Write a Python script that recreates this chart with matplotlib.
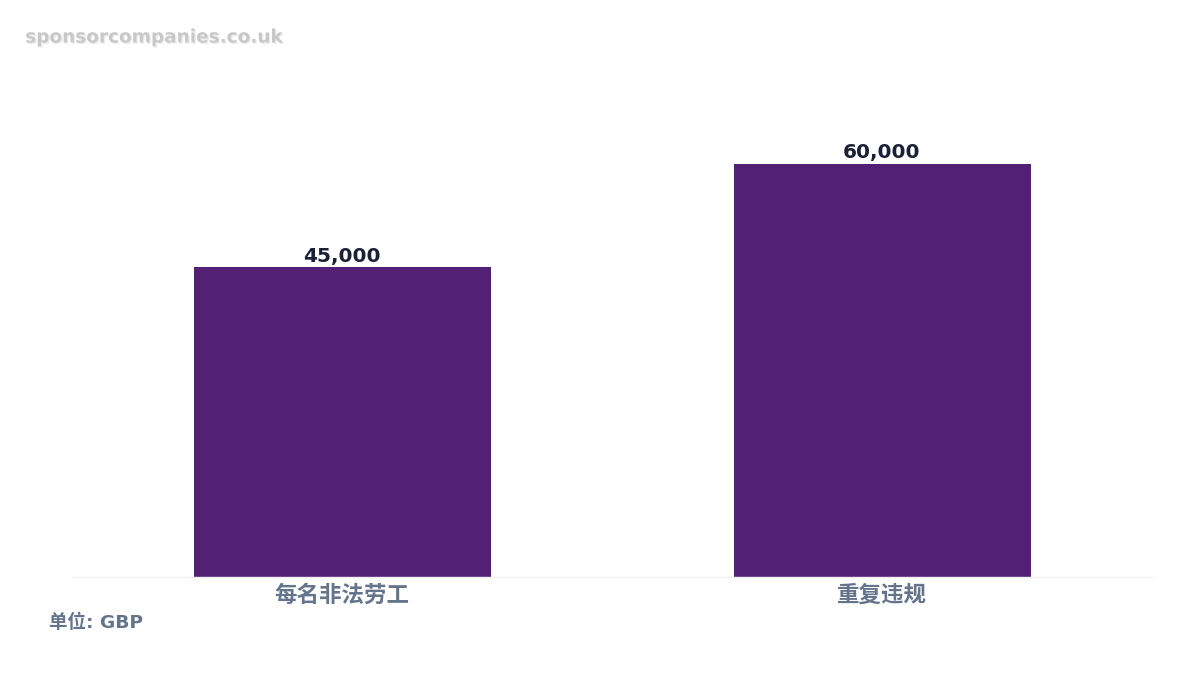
import matplotlib.pyplot as plt
import matplotlib.patheffects as pe

plt.rcParams['font.family'] = ['DejaVu Sans', 'Noto Sans CJK SC']

categories = ['每名非法劳工', '重复违规']
values = [45000, 60000]
value_labels = ['45,000', '60,000']

fig = plt.figure(figsize=(12, 6.75), dpi=100)
ax = fig.add_axes([0.06, 0.1452, 0.90, 0.735])

bars = ax.bar(range(len(categories)), values, width=0.55, color='#522176')
ax.set_xlim(-0.5, 1.5)
ax.set_ylim(0, max(values) * 1.2)

for b, txt in zip(bars, value_labels):
    ax.annotate(txt, (b.get_x() + b.get_width() / 2, b.get_height()),
                xytext=(0, 1), textcoords='offset points',
                ha='center', va='bottom', fontsize=14.5, fontweight='bold',
                color='#1a2035')

ax.set_xticks(range(len(categories)))
ax.set_xticklabels(categories, fontsize=16.2, fontweight='bold', color='#64748b')
ax.tick_params(axis='x', length=0, pad=5)
ax.set_yticks([])
for s in ['top', 'right', 'left']:
    ax.spines[s].set_visible(False)
ax.spines['bottom'].set_color('#f1f1f3')
ax.spines['bottom'].set_linewidth(1)

fig.text(0.041, 0.069, '单位: GBP', fontsize=13.3, fontweight='bold', color='#64748b')
fig.text(0.021, 0.937, 'sponsorcompanies.co.uk', fontsize=13.3, fontweight='bold',
         color='#c8c8c8',
         path_effects=[pe.withSimplePatchShadow(offset=(1, -1), shadow_rgbFace='#999999', alpha=0.18)])

fig.savefig('out.png', dpi=100)
